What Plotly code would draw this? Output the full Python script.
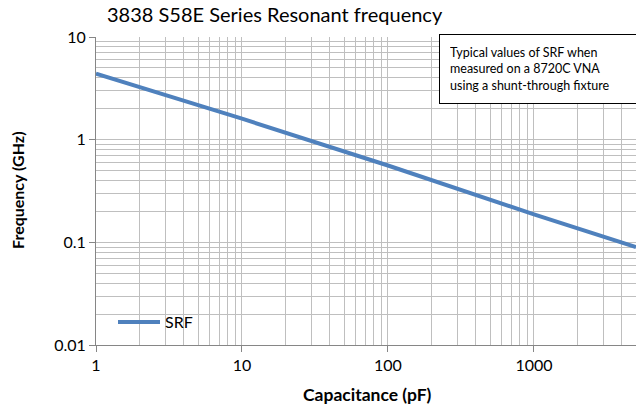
import plotly.graph_objects as go

# Data
capacitance_pf = [1, 10, 100, 1000, 5000]
srf_ghz = [4.4, 1.6, 0.56, 0.187, 0.09]
series_name = "SRF"

x_tickvals = [1, 10, 100, 1000]
x_ticktext = ["1", "10", "100", "1000"]
y_tickvals = [0.01, 0.1, 1, 10]
y_ticktext = ["0.01", "0.1", "1", "10"]

title_text = "3838 S58E Series Resonant frequency"
x_title = "Capacitance (pF)"
y_title = "Frequency (GHz)"
note_text = ("Typical values of SRF when<br>measured on a 8720C VNA<br>"
             "using a shunt-through fixture")

FONT = "Lato, 'Open Sans', sans-serif"
GRID = "#BFBFBF"
L, R, T, B = 96, 0, 37, 68
PW, PH = 636 - L - R, 413 - T - B


def px(xp):
    return (xp - L) / PW


def py(yp):
    return (413 - B - yp) / PH


fig = go.Figure()
fig.add_trace(go.Scatter(
    x=capacitance_pf, y=srf_ghz, mode="lines", name=series_name,
    line=dict(color="#4F81BD", width=4),
))

fig.update_layout(
    width=636, height=413,
    margin=dict(l=L, r=R, t=T, b=B, autoexpand=False),
    paper_bgcolor="white", plot_bgcolor="white",
    font=dict(family=FONT, size=16, color="#000000"),
    showlegend=True,
    legend=dict(x=px(113), y=py(322), xanchor="left", yanchor="middle",
                bgcolor="rgba(0,0,0,0)", font=dict(size=16),
                itemwidth=42, tracegroupgap=0),
    annotations=[
        dict(text=title_text, xref="paper", yref="paper",
             x=px(275), y=py(14), xanchor="center", yanchor="middle",
             showarrow=False, font=dict(size=20, family=FONT)),
        dict(text="<b>" + x_title + "</b>", xref="paper", yref="paper",
             x=px(367), y=py(394), xanchor="center", yanchor="middle",
             showarrow=False, font=dict(size=17.5, family=FONT)),
        dict(text="<b>" + y_title + "</b>", xref="paper", yref="paper",
             x=px(17), y=py(190), xanchor="center", yanchor="middle",
             textangle=-90, showarrow=False, font=dict(size=16, family=FONT)),
        dict(text=note_text, xref="paper", yref="paper",
             x=px(439), y=py(34), xanchor="left", yanchor="top",
             showarrow=False, align="left", bgcolor="white",
             bordercolor="#000000", borderwidth=1, borderpad=10,
             width=176, font=dict(size=12.5, family=FONT)),
    ],
)

fig.update_xaxes(
    type="log", range=[0, 3.699], automargin=False,
    tickvals=x_tickvals, ticktext=x_ticktext,
    ticks="outside", ticklen=6, tickcolor="#868686",
    showline=True, linecolor="#868686", linewidth=1,
    showgrid=True, gridcolor=GRID, gridwidth=1,
    minor=dict(dtick="D1", showgrid=True, gridcolor=GRID, gridwidth=1, ticks=""),
    zeroline=False,
)
fig.update_yaxes(
    type="log", range=[-2, 1], automargin=False,
    tickvals=y_tickvals, ticktext=y_ticktext,
    ticks="outside", ticklen=6, tickcolor="#868686",
    showline=True, linecolor="#868686", linewidth=1,
    showgrid=True, gridcolor=GRID, gridwidth=1,
    minor=dict(dtick="D1", showgrid=True, gridcolor=GRID, gridwidth=1, ticks=""),
    zeroline=False,
)

fig.write_html(
    "out.html",
    config={"displayModeBar": False},
    post_script="document.body.style.margin='0';document.body.style.overflow='hidden';",
)
